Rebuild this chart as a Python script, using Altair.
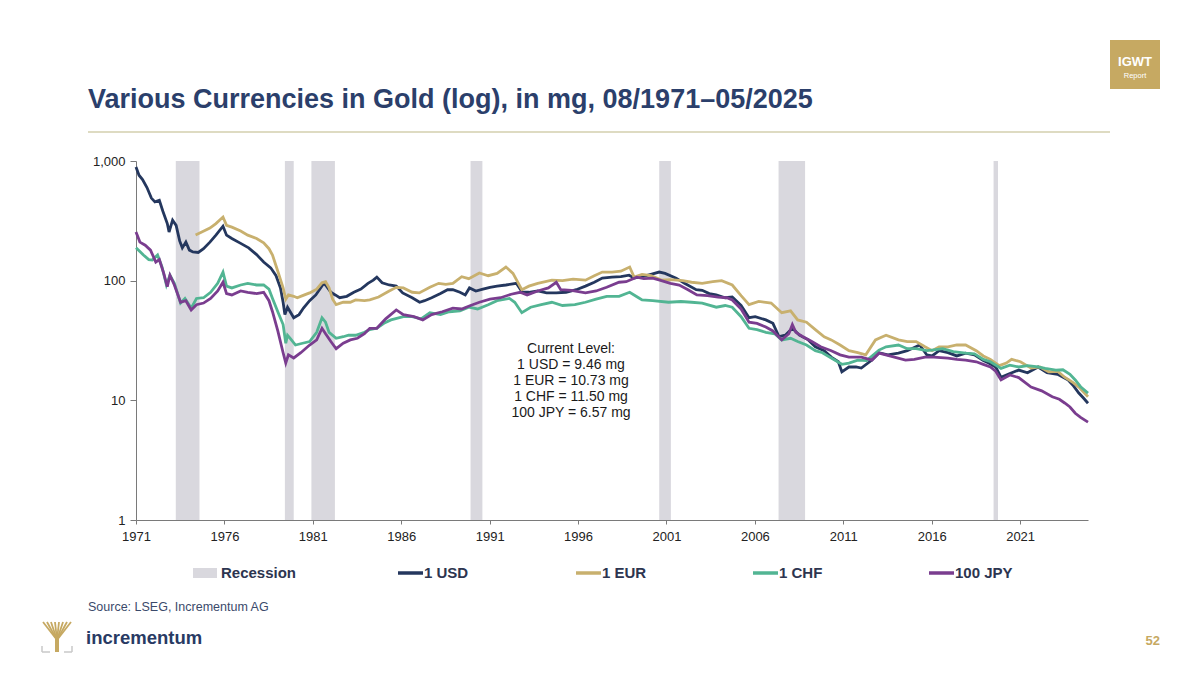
import altair as alt
import pandas as pd

# ---------------- data ----------------
series_names = ["1 USD", "1 EUR", "1 CHF", "100 JPY"]
series_colors = ["#24375e", "#c8b06e", "#52b593", "#7a3d8f"]

usd_years = [1971.58, 1971.75, 1971.95, 1972.2, 1972.45, 1972.65, 1972.9, 1973.1, 1973.35, 1973.45,
             1973.65, 1973.85, 1974.05, 1974.2, 1974.4, 1974.6, 1974.8, 1975.1, 1975.4, 1975.76,
             1976.1, 1976.5, 1976.7, 1977.0, 1977.5, 1977.95, 1978.4, 1978.8, 1979.2, 1979.5,
             1979.75, 1979.9, 1980.0, 1980.15, 1980.3, 1980.5, 1980.8, 1981.05, 1981.4, 1981.75,
             1982.05, 1982.2, 1982.35, 1982.6, 1982.85, 1983.1, 1983.5, 1983.9, 1984.3, 1984.7,
             1985.0, 1985.2, 1985.5, 1985.9, 1986.3, 1986.66, 1987.2, 1987.62, 1987.9, 1988.3,
             1988.8, 1989.2, 1989.5, 1989.9, 1990.2, 1990.44, 1990.8, 1991.2, 1991.6, 1992.0,
             1992.5, 1993.09, 1993.43, 1993.8, 1994.3, 1994.8, 1995.35, 1995.9, 1996.48, 1997.0,
             1997.5, 1997.95, 1998.5, 1999.0, 1999.47, 1999.75, 2000.2, 2000.6, 2001.17, 2001.5,
             2002.13, 2002.6, 2003.26, 2003.6, 2004.0, 2004.39, 2004.9, 2005.3, 2005.8, 2006.25,
             2006.6, 2007.2, 2007.6, 2007.95, 2008.3, 2008.7, 2009.1, 2009.6, 2010.0, 2010.5,
             2010.9, 2011.3, 2011.5, 2011.9, 2012.3, 2012.6, 2013.2, 2013.6, 2014.1, 2014.7,
             2015.2, 2015.9, 2016.3, 2016.6, 2017.0, 2017.5, 2018.0, 2018.5, 2019.0, 2019.5,
             2019.8, 2020.2, 2020.5, 2020.9, 2021.5, 2022.0, 2022.6, 2023.1, 2023.7, 2024.3,
             2024.6, 2024.9, 2025.15, 2025.42]
usd_values = [890, 760, 700, 600, 490, 455, 470, 380, 300, 255,
              320, 290, 215, 188, 210, 180, 174, 172, 185, 210,
              240, 285, 240, 225, 205, 188, 165, 143, 128, 110,
              87, 66, 52, 60, 55, 49, 52, 59, 68, 76,
              88, 95, 90, 80, 76, 72, 74, 80, 85, 95,
              101, 107, 96, 92, 90, 79, 72, 66, 68, 72,
              78, 84, 84, 80, 76, 87, 82, 85, 88, 90,
              92, 95, 80, 80, 82, 79, 79, 80, 84, 90,
              97, 105, 107, 108, 111, 105, 108, 112, 118, 115,
              105, 95, 84, 83, 78, 76, 72, 73, 62, 49,
              50, 47, 44, 34, 35, 40, 35, 32, 28, 26,
              23, 21, 17.3, 19, 19, 18.6, 21.7, 25, 24, 24.8,
              26, 29, 24, 23.5, 26, 25, 23.5, 24.8, 24, 21.5,
              20.5, 19, 15.6, 16.5, 17.9, 17, 19, 17, 16.5, 14.8,
              13.2, 11.5, 10.5, 9.46]

eur_years = [1974.95, 1975.3, 1975.76, 1976.1, 1976.5, 1976.7, 1977.0, 1977.5, 1977.9, 1978.4,
             1978.8, 1979.1, 1979.3, 1979.6, 1979.9, 1980.05, 1980.2, 1980.5, 1980.7, 1981.0,
             1981.4, 1981.8, 1982.1, 1982.3, 1982.5, 1982.7, 1982.9, 1983.3, 1983.7, 1984.0,
             1984.5, 1984.8, 1985.3, 1985.9, 1986.3, 1986.7, 1987.2, 1987.6, 1988.2, 1988.7,
             1989.1, 1989.5, 1990.0, 1990.4, 1991.0, 1991.5, 1992.0, 1992.5, 1992.9, 1993.4,
             1993.8, 1994.3, 1995.1, 1995.7, 1996.3, 1997.0, 1997.5, 1997.95, 1998.5, 1999.0,
             1999.5, 1999.75, 2000.2, 2000.7, 2001.3, 2001.8, 2002.5, 2003.0, 2003.6, 2004.2,
             2004.7, 2005.3, 2005.8, 2006.25, 2006.8, 2007.5, 2008.1, 2008.6, 2009.0, 2009.5,
             2010.0, 2010.5, 2010.9, 2011.4, 2011.9, 2012.4, 2012.85, 2013.4, 2013.8, 2014.0,
             2014.7, 2015.2, 2015.7, 2016.2, 2016.6, 2017.0, 2017.5, 2018.0, 2018.5, 2019.1,
             2019.5, 2019.9, 2020.4, 2020.8, 2021.1, 2021.6, 2022.2, 2022.7, 2023.2, 2023.7,
             2024.1, 2024.6, 2024.9, 2025.42]
eur_values = [241, 255, 275, 300, 340, 290, 280, 260, 240, 225,
              207, 185, 164, 120, 87, 70, 76, 74, 72, 75,
              79, 85, 96, 98, 87, 70, 63, 66, 66, 69,
              68, 69, 73, 82, 88, 87, 80, 79, 88, 95,
              93, 95, 108, 104, 116, 110, 115, 130, 115, 84,
              90, 95, 101, 100, 103, 101, 110, 118, 118, 120,
              130, 107, 113, 110, 101, 102, 100, 97, 95, 98,
              100, 92, 75, 63, 67, 65, 54, 56, 47, 45,
              39, 34, 32, 29, 26, 25, 24, 32, 34, 35,
              32, 31, 31, 28, 26, 28, 28, 29, 29, 26,
              23.5, 22, 19.5, 20.5, 22, 21, 18.6, 19, 17.3, 17.5,
              15.6, 14, 12.9, 10.73]

chf_years = [1971.58, 1971.8, 1972.0, 1972.3, 1972.5, 1972.8, 1973.05, 1973.3, 1973.5, 1973.75,
             1974.1, 1974.35, 1974.7, 1975.0, 1975.4, 1975.8, 1976.2, 1976.5, 1976.7, 1977.0,
             1977.5, 1977.9, 1978.4, 1978.8, 1979.1, 1979.3, 1979.6, 1979.9, 1980.05, 1980.15,
             1980.3, 1980.6, 1981.0, 1981.4, 1981.8, 1982.1, 1982.3, 1982.5, 1982.9, 1983.3,
             1983.6, 1984.0, 1984.5, 1984.8, 1985.2, 1985.6, 1986.0, 1986.7, 1987.2, 1987.7,
             1988.2, 1988.8, 1989.3, 1989.9, 1990.4, 1990.9, 1991.5, 1992.0, 1992.7, 1993.0,
             1993.4, 1993.9, 1994.5, 1995.1, 1995.7, 1996.4, 1997.0, 1997.6, 1998.2, 1998.9,
             1999.5, 2000.0, 2000.2, 2000.8, 2001.7, 2002.4, 2003.0, 2003.6, 2004.4, 2004.9,
             2005.3, 2005.8, 2006.25, 2006.7, 2007.2, 2007.7, 2008.1, 2008.6, 2009.0, 2009.5,
             2010.0, 2010.4, 2010.9, 2011.5, 2011.9, 2012.4, 2012.9, 2013.6, 2014.0, 2014.7,
             2015.2, 2015.7, 2016.3, 2016.6, 2017.2, 2017.8, 2018.5, 2019.0, 2019.5, 2019.9,
             2020.5, 2021.0, 2021.5, 2022.0, 2022.6, 2023.0, 2023.6, 2024.0, 2024.4, 2024.7,
             2025.0, 2025.42]
chf_values = [188, 175, 164, 150, 149, 164, 130, 92, 111, 95,
              65, 71, 59, 71, 72, 80, 95, 118, 90, 87,
              92, 95, 92, 92, 85, 71, 55, 43, 30, 35,
              33, 29, 30, 31, 37, 49, 45, 37, 33, 34,
              35, 35, 37, 39, 40, 44, 47, 50, 50, 48,
              54, 52, 55, 56, 60, 58, 63, 68, 71, 66,
              54, 60, 63, 66, 62, 63, 66, 70, 74, 74,
              80, 72, 69, 68, 66, 67, 66, 65, 60, 62,
              60, 50, 40, 39, 37, 36, 32, 33, 31, 29,
              26, 25, 22.6, 20, 20.5, 21.7, 21.5, 26.3, 28, 29,
              27, 27, 26, 26.3, 27, 25.5, 24.8, 24.5, 22, 21,
              18.5, 19.7, 19, 19.5, 19, 18.5, 17.9, 18, 16.5, 14.8,
              13, 11.5]

jpy_years = [1971.58, 1971.8, 1972.1, 1972.4, 1972.7, 1972.9, 1973.15, 1973.35, 1973.5, 1973.75,
             1974.1, 1974.4, 1974.7, 1975.0, 1975.4, 1975.8, 1976.2, 1976.5, 1976.7, 1977.0,
             1977.5, 1977.9, 1978.4, 1978.8, 1979.1, 1979.3, 1979.6, 1979.9, 1980.05, 1980.2,
             1980.5, 1980.9, 1981.4, 1981.8, 1982.1, 1982.3, 1982.6, 1982.9, 1983.3, 1983.7,
             1984.1, 1984.5, 1984.8, 1985.2, 1985.7, 1986.3, 1986.7, 1987.3, 1987.8, 1988.3,
             1988.9, 1989.5, 1990.0, 1990.5, 1991.0, 1991.6, 1992.2, 1992.8, 1993.3, 1993.7,
             1994.3, 1994.9, 1995.35, 1995.6, 1996.2, 1997.0, 1997.6, 1998.2, 1998.9, 1999.3,
             1999.9, 2000.3, 2000.8, 2001.2, 2001.8, 2002.3, 2002.8, 2003.3, 2003.9, 2004.5,
             2005.0, 2005.3, 2005.8, 2006.25, 2006.7, 2007.2, 2007.6, 2008.1, 2008.5, 2008.7,
             2008.9, 2009.3, 2009.8, 2010.3, 2010.9, 2011.4, 2011.9, 2012.6, 2013.2, 2013.6,
             2014.2, 2015.1, 2015.6, 2016.2, 2016.7, 2017.5, 2018.0, 2018.5, 2019.1, 2019.5,
             2019.9, 2020.2, 2020.5, 2021.0, 2021.5, 2022.2, 2022.8, 2023.4, 2023.8, 2024.1,
             2024.4, 2024.7, 2025.0, 2025.42]
jpy_values = [255, 210, 198, 180, 143, 150, 115, 89, 111, 92,
              66, 68, 57, 63, 65, 71, 82, 97, 78, 76,
              82, 80, 78, 80, 68, 55, 38, 25, 20.5, 24,
              22.6, 25, 29, 32, 40, 36, 31, 27, 30, 32,
              33, 36, 40, 40, 48, 57, 52, 50, 47, 52,
              55, 59, 58, 62, 66, 70, 72, 77, 80, 76,
              82, 87, 97, 84, 83, 79, 82, 88, 97, 98,
              107, 104, 105, 101, 95, 92, 84, 76, 75, 73,
              72, 69, 58, 45, 44, 41, 38, 32, 36, 43,
              37, 34, 31, 28, 26, 24, 23, 23, 21.7, 24.8,
              23.5, 21.7, 22, 23, 23, 22.5, 22, 21.7, 21, 20,
              19, 17.5, 14.8, 16.3, 15.5, 12.9, 12, 10.7, 10.2, 9.5,
              8.8, 7.8, 7.2, 6.57]

recession_start = [1973.83, 1980.0, 1981.5, 1990.5, 2001.17, 2007.92, 2020.08]
recession_end = [1975.17, 1980.5, 1982.83, 1991.17, 2001.83, 2009.42, 2020.33]

tick_labels_years = [1971, 1976, 1981, 1986, 1991, 1996, 2001, 2006, 2011, 2016, 2021]
x_start, x_end = 1971.58, 2025.42

# ---------------- frames ----------------
rows = []
for name, yrs, vals in zip(series_names,
                           [usd_years, eur_years, chf_years, jpy_years],
                           [usd_values, eur_values, chf_values, jpy_values]):
    for i, (yy, vv) in enumerate(zip(yrs, vals)):
        rows.append({"series": name, "year": yy, "value": vv, "idx": i})
df = pd.DataFrame(rows)
rec_df = pd.DataFrame({"start": recession_start, "end": recession_end})

W, H = 952, 359
FONT = "Liberation Sans"
NAVY = "#2b3f6b"
GOLD = "#c6a962"

tick_vals = [round(x_start + (y - 1971), 2) for y in tick_labels_years]
xscale = alt.Scale(domain=[x_start, x_end], nice=False, zero=False)
xaxis = alt.Axis(values=tick_vals, labelExpr="floor(datum.value)", title=None, grid=False,
                 tickSize=4, labelPadding=6, labelFontSize=13, labelColor="#222222",
                 labelFont=FONT, domainColor="#7a7a7a", tickColor="#7a7a7a", labelFlush=False)
yaxis = alt.Axis(values=[1, 10, 100, 1000], format=",", title=None, grid=False, tickSize=6,
                 labelPadding=5, labelFontSize=13, labelColor="#222222", labelFont=FONT,
                 domainColor="#7a7a7a", tickColor="#7a7a7a")

rec = alt.Chart(rec_df).mark_rect(color="#d9d8de").encode(
    x=alt.X("start:Q", scale=xscale, axis=xaxis),
    x2="end:Q",
    y=alt.value(0),
    y2=alt.value(H),
)

lines = alt.Chart(df).mark_line(strokeWidth=2.8).encode(
    x=alt.X("year:Q", scale=xscale, axis=xaxis),
    y=alt.Y("value:Q", scale=alt.Scale(type="log", domain=[1, 1000], nice=False), axis=yaxis),
    color=alt.Color("series:N", scale=alt.Scale(domain=series_names, range=series_colors), legend=None),
    order="idx:Q",
)

one = alt.Data(values=[{"a": 1}])


def txt(text, x, y, size, color, bold=False, align="left", baseline="middle", **kw):
    return alt.Chart(one).mark_text(
        text=text, align=align, baseline=baseline, fontSize=size, font=FONT, color=color,
        fontWeight="bold" if bold else "normal", **kw
    ).encode(x=alt.value(x), y=alt.value(y))


def rule(x, x2, y, y2, color, width):
    return alt.Chart(one).mark_rule(color=color, strokeWidth=width).encode(
        x=alt.value(x), x2=alt.value(x2), y=alt.value(y), y2=alt.value(y2))


def box(x, x2, y, y2, color):
    return alt.Chart(one).mark_rect(color=color).encode(
        x=alt.value(x), x2=alt.value(x2), y=alt.value(y), y2=alt.value(y2))


ox, oy = 136, 161  # plot origin on page

layers = [rec, lines]

# title & separator
layers.append(txt("Various Currencies in Gold (log), in mg, 08/1971\u201305/2025", 88 - ox, 108 - oy, 27,
                  NAVY, bold=True, baseline="alphabetic"))
layers.append(rule(88 - ox, 1110 - ox, 132 - oy, 132 - oy, "#d3cfae", 1.5))

# IGWT badge
layers.append(box(1110 - ox, 1160 - ox, 40 - oy, 89 - oy, GOLD))
layers.append(txt("IGWT", 1135 - ox, 62 - oy, 13, "white", bold=True, align="center"))
layers.append(txt("Report", 1135 - ox, 76 - oy, 7.5, "white", align="center"))

# annotation
ann = ["Current Level:",
       f"1 USD = {usd_values[-1]:.2f} mg",
       f"1 EUR = {eur_values[-1]:.2f} mg",
       f"1 CHF = {chf_values[-1]:.2f} mg",
       f"100 JPY = {jpy_values[-1]:.2f} mg"]
layers.append(txt(ann, 571 - ox, 342 - oy, 14, "#1a1a1a", align="center", baseline="top", lineHeight=16))

# legend
ly = 573 - oy
layers.append(box(193 - ox, 217 - ox, 568 - oy, 578 - oy, "#d9d8de"))
layers.append(txt("Recession", 221 - ox, ly, 15, "#2d3550", bold=True))
for name, col, x0 in zip(series_names, series_colors, [398, 576, 753, 929]):
    layers.append(rule(x0 - ox, x0 + 25 - ox, ly, ly, col, 3.5))
    layers.append(txt(name, x0 + 26 - ox, ly, 15, "#2d3550", bold=True))

# footer
layers.append(txt("Source: LSEG, Incrementum AG", 88 - ox, 607 - oy, 12.5, "#3b4a6b"))
layers.append(txt("incrementum", 86 - ox, 638 - oy, 18.5, "#283a63", bold=True))
layers.append(txt("52", 1160 - ox, 641 - oy, 13, GOLD, bold=True, align="right"))

# tree icon
layers.append(rule(57 - ox, 57 - ox, 636 - oy, 652 - oy, GOLD, 4))
for tx in [43, 47, 51, 55, 59, 63, 67, 71]:
    layers.append(rule(57 - ox, tx - ox, 640 - oy, 622 - oy, GOLD, 1.8))
layers.append(rule(42 - ox, 50 - ox, 652 - oy, 652 - oy, "#c8c8c8", 1.5))
layers.append(rule(64 - ox, 72 - ox, 652 - oy, 652 - oy, "#c8c8c8", 1.5))
layers.append(rule(42 - ox, 42 - ox, 646 - oy, 652 - oy, "#c8c8c8", 1.5))
layers.append(rule(72 - ox, 72 - ox, 646 - oy, 652 - oy, "#c8c8c8", 1.5))

chart = alt.layer(*layers).properties(
    width=W, height=H,
    autosize=alt.AutoSizeParams(type="none"),
    padding={"left": 128, "top": 153, "right": 100, "bottom": 140},
    background="white",
).configure_view(stroke=None)

chart.save("out.html", embed_options={"renderer": "svg", "actions": False})
